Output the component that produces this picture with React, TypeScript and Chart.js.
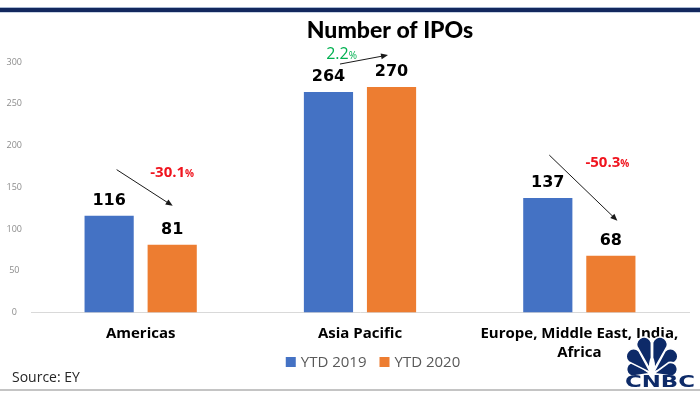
import React, { useEffect, useRef } from "react";
import { Chart, registerables } from "chart.js";

Chart.register(...registerables);

// ---------- data ----------
const categories: string[][] = [["Americas"], ["Asia Pacific"], ["Europe, Middle East, India,", "Africa"]];
const seriesLabels = ["YTD 2019", "YTD 2020"];
const ytd2019 = [116, 264, 137];
const ytd2020 = [81, 270, 68];
const changePct = ["-30.1", "2.2", "-50.3"];
const yMax = 300;
const yStep = 50;
const titleText = "Number of IPOs";
const sourceText = "Source: EY";

// ---------- styles ----------
const seriesColors = ["#4472C4", "#ED7D31"];
const changeColors = ["#F0141E", "#00B050", "#F0141E"];
// pixel offsets relative to bar tops: text (from 2020 bar), arrow start (from 2019 bar), arrow end (from 2020 bar)
const annotationLayout = [
  { tdx: 0, tdy: -73, bold: true, size: 15, a: [7.5, -46, 0.5, -39] },
  { tdx: -50, tdy: -33, bold: false, size: 16, a: [11.5, -28, -3.5, -32] },
  { tdx: -3.5, tdy: -94, bold: true, size: 15, a: [1.5, -43, 6.5, -35] },
];

function drawArrow(ctx: CanvasRenderingContext2D, x1: number, y1: number, x2: number, y2: number) {
  const ang = Math.atan2(y2 - y1, x2 - x1);
  const hl = 7;
  const hw = 3;
  ctx.strokeStyle = "#1a1a1a";
  ctx.fillStyle = "#1a1a1a";
  ctx.lineWidth = 1;
  ctx.beginPath();
  ctx.moveTo(x1, y1);
  ctx.lineTo(x2 - Math.cos(ang) * hl * 0.8, y2 - Math.sin(ang) * hl * 0.8);
  ctx.stroke();
  ctx.beginPath();
  ctx.moveTo(x2, y2);
  ctx.lineTo(x2 - Math.cos(ang) * hl - Math.sin(ang) * hw, y2 - Math.sin(ang) * hl + Math.cos(ang) * hw);
  ctx.lineTo(x2 - Math.cos(ang) * hl + Math.sin(ang) * hw, y2 - Math.sin(ang) * hl - Math.cos(ang) * hw);
  ctx.closePath();
  ctx.fill();
}

function drawLogo(ctx: CanvasRenderingContext2D, cx: number, by: number) {
  const navy = "#0d2a68";
  ctx.save();
  const feathers = [
    { ang: -76, L: 26, w: 7 },
    { ang: -46, L: 33, w: 7.5 },
    { ang: -15, L: 38, w: 7.5 },
    { ang: 15, L: 38, w: 7.5 },
    { ang: 46, L: 33, w: 7.5 },
    { ang: 76, L: 26, w: 7 },
  ];
  for (const f of feathers) {
    const r = (f.ang * Math.PI) / 180;
    ctx.save();
    ctx.translate(cx, by);
    ctx.rotate(r);
    ctx.beginPath();
    ctx.moveTo(0, -2);
    ctx.lineTo(-f.w, -(f.L - f.w));
    ctx.arc(0, -(f.L - f.w), f.w, Math.PI, Math.PI * 2, false);
    ctx.lineTo(0, -2);
    ctx.closePath();
    ctx.fillStyle = navy;
    ctx.fill();
    ctx.lineWidth = 1.6;
    ctx.strokeStyle = "#ffffff";
    ctx.stroke();
    ctx.restore();
  }
  // body
  ctx.beginPath();
  ctx.ellipse(cx, by - 8, 3, 9, 0, 0, Math.PI * 2);
  ctx.fillStyle = "#ffffff";
  ctx.fill();
  // wordmark
  ctx.font = "bold 15px 'DejaVu Sans'";
  ctx.textBaseline = "alphabetic";
  ctx.textAlign = "left";
  const w = ctx.measureText("CNBC").width;
  ctx.translate(625, 387);
  ctx.scale(70 / w, 1);
  ctx.fillStyle = navy;
  ctx.fillText("CNBC", 0, 0);
  ctx.restore();
}

const decorPlugin = {
  id: "decor",
  beforeDraw(chart: any) {
    const ctx = chart.ctx;
    ctx.save();
    ctx.fillStyle = "#ffffff";
    ctx.fillRect(0, 0, chart.width, chart.height);
    ctx.restore();
  },
  afterDraw(chart: any) {
    const ctx: CanvasRenderingContext2D = chart.ctx;
    ctx.save();
    // top rule
    ctx.fillStyle = "#a9b9d3";
    ctx.fillRect(0, 7, chart.width, 1);
    ctx.fillStyle = "#13285e";
    ctx.fillRect(0, 8, chart.width, 4);
    ctx.fillStyle = "#c9d3e3";
    ctx.fillRect(0, 12, chart.width, 1);
    // bottom rule
    ctx.fillStyle = "#c4c4c4";
    ctx.fillRect(0, 389, chart.width, 2);
    // title
    ctx.fillStyle = "#000000";
    ctx.font = "900 23px Lato";
    ctx.textAlign = "center";
    ctx.textBaseline = "middle";
    ctx.fillText(titleText, 390, 31);
    // legend
    ctx.font = "15px 'Open Sans'";
    const box = 10;
    const gap = 5;
    const itemGap = 13;
    const widths = chart.data.datasets.map((d: any) => box + gap + ctx.measureText(d.label).width);
    const total = widths.reduce((a: number, b: number) => a + b, 0) + itemGap * (widths.length - 1);
    let x = 373 - total / 2;
    const ly = 362;
    chart.data.datasets.forEach((d: any, i: number) => {
      ctx.fillStyle = d.backgroundColor;
      ctx.fillRect(x, ly - box / 2, box, box);
      ctx.fillStyle = "#595959";
      ctx.textAlign = "left";
      ctx.textBaseline = "middle";
      ctx.fillText(d.label, x + box + gap, ly + 1);
      x += widths[i] + itemGap;
    });
    // source
    ctx.font = "14px 'Open Sans'";
    ctx.fillStyle = "#262626";
    ctx.textAlign = "left";
    ctx.textBaseline = "middle";
    ctx.fillText(sourceText, 12, 378);
    // logo
    drawLogo(ctx, 652, 374);
    ctx.restore();
  },
};

const valueLabelPlugin = {
  id: "valueLabels",
  afterDatasetsDraw(chart: any) {
    const ctx: CanvasRenderingContext2D = chart.ctx;
    ctx.save();
    ctx.font = "bold 16px 'DejaVu Sans'";
    ctx.fillStyle = "#000000";
    ctx.textAlign = "center";
    ctx.textBaseline = "middle";
    chart.data.datasets.forEach((ds: any, i: number) => {
      chart.getDatasetMeta(i).data.forEach((el: any, j: number) => {
        ctx.fillText(String(ds.data[j]), el.x, el.y - 15);
      });
    });
    ctx.restore();
  },
};

const changePlugin = {
  id: "changes",
  afterDatasetsDraw(chart: any) {
    const ctx: CanvasRenderingContext2D = chart.ctx;
    const m0 = chart.getDatasetMeta(0).data;
    const m1 = chart.getDatasetMeta(1).data;
    ctx.save();
    changePct.forEach((pct, j) => {
      const L = annotationLayout[j];
      const b = m0[j];
      const o = m1[j];
      drawArrow(ctx, b.x + L.a[0], b.y + L.a[1], o.x + L.a[2], o.y + L.a[3]);
      const w = L.bold ? "bold " : "";
      ctx.font = `${w}${L.size}px 'Open Sans'`;
      const w1 = ctx.measureText(pct).width;
      ctx.font = `${w}10px 'Open Sans'`;
      const w2 = ctx.measureText("%").width;
      const tx = o.x + L.tdx - (w1 + w2) / 2;
      const ty = o.y + L.tdy + 5;
      ctx.fillStyle = changeColors[j];
      ctx.textAlign = "left";
      ctx.textBaseline = "alphabetic";
      ctx.font = `${w}${L.size}px 'Open Sans'`;
      ctx.fillText(pct, tx, ty);
      ctx.font = `${w}10px 'Open Sans'`;
      ctx.fillText("%", tx + w1, ty);
    });
    ctx.restore();
  },
};

export default function App() {
  const ref = useRef<HTMLCanvasElement | null>(null);
  useEffect(() => {
    if (!ref.current) return;
    const chart = new Chart(ref.current, {
      type: "bar",
      data: {
        labels: categories as any,
        datasets: [
          {
            label: seriesLabels[0],
            data: ytd2019,
            backgroundColor: seriesColors[0],
            categoryPercentage: 0.575,
            barPercentage: 0.78,
          },
          {
            label: seriesLabels[1],
            data: ytd2020,
            backgroundColor: seriesColors[1],
            categoryPercentage: 0.575,
            barPercentage: 0.78,
          },
        ],
      },
      options: {
        responsive: false,
        animation: false,
        devicePixelRatio: 1,
        layout: { padding: { top: 62, left: 4, right: 11, bottom: 20 } },
        plugins: {
          legend: { display: false },
          title: { display: false },
          tooltip: { enabled: false },
        },
        scales: {
          x: {
            grid: { display: false, drawTicks: false },
            border: { display: true, color: "#d9d9d9", width: 1 },
            ticks: {
              font: { family: "'Open Sans'", size: 15, weight: "bold", lineHeight: 1.25 },
              color: "#000000",
              padding: 12,
              maxRotation: 0,
              minRotation: 0,
              autoSkip: false,
            },
          },
          y: {
            min: 0,
            max: yMax,
            grid: { display: false, drawTicks: false },
            border: { display: false },
            ticks: {
              stepSize: yStep,
              font: { family: "'Open Sans'", size: 9 },
              color: "#8c8c8c",
              padding: 9,
              crossAlign: "center",
            },
            afterFit(s: any) {
              s.width = 27;
            },
          },
        },
      } as any,
      plugins: [decorPlugin, valueLabelPlugin, changePlugin],
    });
    return () => chart.destroy();
  }, []);
  return (
    <div style={{ position: "absolute", left: 0, top: 0, width: 700, height: 394, background: "#fff" }}>
      <canvas ref={ref} width={700} height={394} style={{ display: "block", width: 700, height: 394 }} />
    </div>
  );
}
